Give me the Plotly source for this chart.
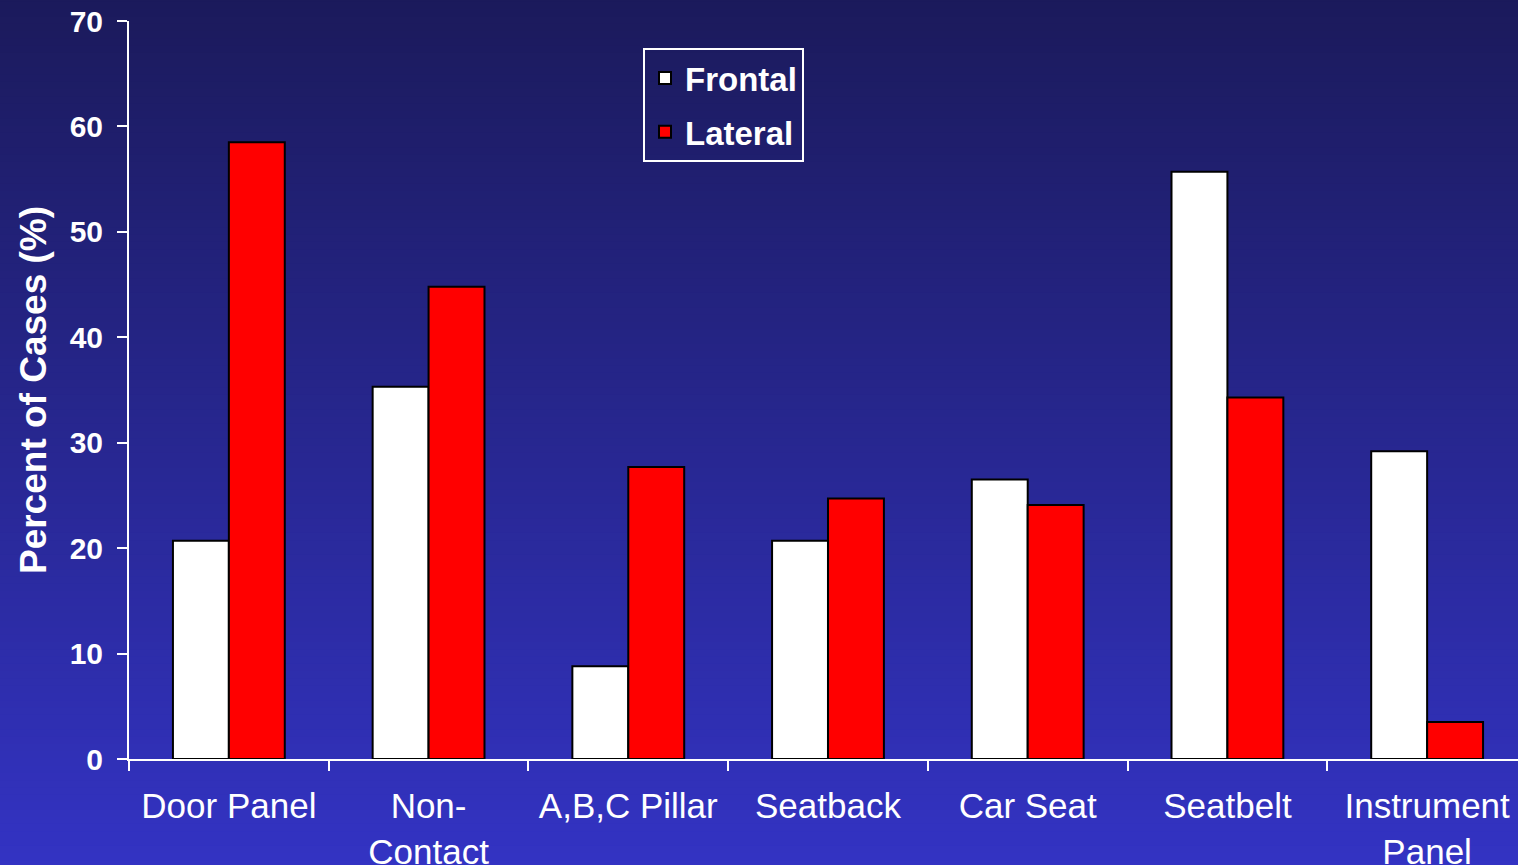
import plotly.graph_objects as go

# Injury source categories and percentages by crash direction
categories = ["Door Panel", "Non-<br>Contact", "A,B,C Pillar", "Seatback",
              "Car Seat", "Seatbelt", "Instrument<br>Panel"]
frontal = [20.7, 35.3, 8.8, 20.7, 26.5, 55.7, 29.2]
lateral = [58.5, 44.8, 27.7, 24.7, 24.1, 34.3, 3.5]
y_ticks = [0, 10, 20, 30, 40, 50, 60, 70]

W, H = 1518, 865
ML, MR, MT, MB = 129, 0, 21, 106
PW, PH = W - ML - MR, H - MT - MB

fig = go.Figure()
fig.add_trace(go.Bar(x=categories, y=frontal, name="Frontal", legendgroup="f",
                     marker=dict(color="#ffffff", line=dict(color="#000000", width=2))))
fig.add_trace(go.Bar(x=categories, y=lateral, name="Lateral", legendgroup="l",
                     marker=dict(color="#ff0000", line=dict(color="#000000", width=2))))

# vertical background gradient built from thin strips
top_rgb = (27, 26, 91)
bot_rgb = (51, 51, 195)
n = 120
y0p = -(MB + 4) / PH
y1p = 1 + (MT + 4) / PH
shapes = []
for i in range(n):
    t = i / (n - 1)
    c = tuple(round(top_rgb[k] + (bot_rgb[k] - top_rgb[k]) * t) for k in range(3))
    ya = y1p - (y1p - y0p) * i / n
    yb = y1p - (y1p - y0p) * (i + 1) / n
    shapes.append(dict(type="rect", xref="paper", yref="paper", layer="below",
                       x0=-ML / PW - 0.01, x1=1.01, y0=yb - 0.002, y1=ya + 0.002,
                       fillcolor="rgb(%d,%d,%d)" % c, line=dict(width=0)))

fig.update_layout(
    width=W, height=H,
    margin=dict(l=ML, r=MR, t=MT, b=MB, pad=0, autoexpand=False),
    paper_bgcolor="rgb(38,38,140)",
    plot_bgcolor="rgba(0,0,0,0)",
    shapes=shapes,
    barmode="group", bargap=0.44, bargroupgap=0,
    font=dict(family="Liberation Sans, Arial, sans-serif", color="#ffffff"),
    showlegend=True,
    legend=dict(x=(643 - ML) / PW, y=(H - MB - 48) / PH, xanchor="left", yanchor="top",
                bgcolor="rgba(0,0,0,0)", bordercolor="#ffffff", borderwidth=2,
                font=dict(size=33, color="#ffffff", family="Liberation Sans, Arial, sans-serif",
                          weight="bold"),
                entrywidth=135,
                traceorder="grouped", tracegroupgap=8),
    xaxis=dict(range=[-0.5, 6.455], showgrid=False, zeroline=False, automargin=False,
               showline=True, linecolor="#ffffff", linewidth=2,
               ticks="outside", tickson="boundaries", ticklen=10, tickwidth=2,
               tickcolor="#ffffff", tickfont=dict(size=35, color="#ffffff"),
               ticklabelstandoff=15),
    yaxis=dict(range=[0, 70], tickvals=y_ticks, showgrid=False, zeroline=False,
               automargin=False,
               showline=True, linecolor="#ffffff", linewidth=2,
               ticks="outside", ticklen=10, tickwidth=2, tickcolor="#ffffff",
               tickfont=dict(size=30, color="#ffffff", weight="bold"),
               ticklabelstandoff=8,
               title=dict(text="Percent of Cases (%)", standoff=12,
                          font=dict(size=37, color="#ffffff", weight="bold"))),
)

fig.write_html("out.html")
